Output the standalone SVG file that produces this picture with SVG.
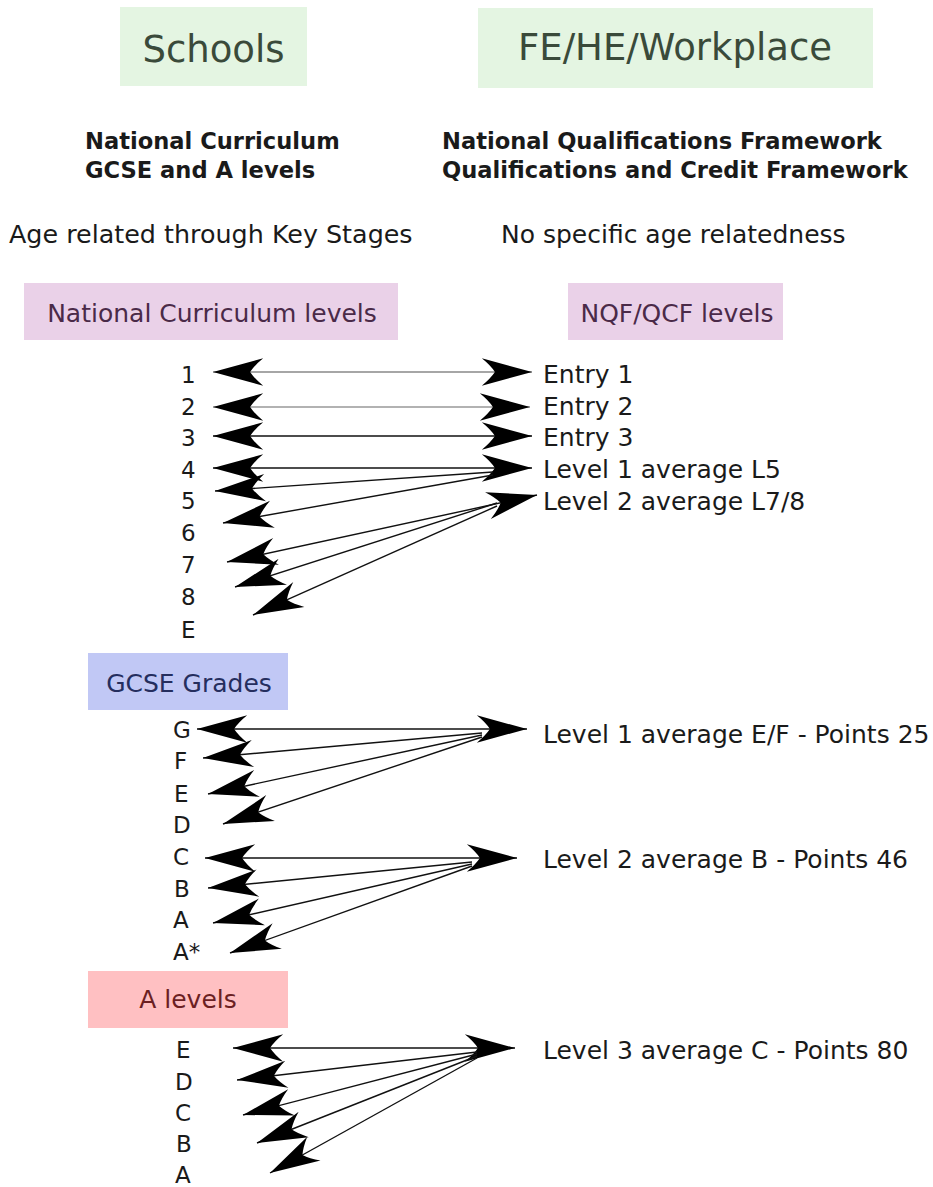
<svg xmlns="http://www.w3.org/2000/svg" width="933" height="1187" viewBox="0 0 933 1187">
<style>
text{font-family:"DejaVu Sans","Liberation Sans",sans-serif;fill:#1a1a1a}
.title{font-size:37px;text-anchor:middle;fill:#3a4a3a}
.bold{font-size:22.6px;font-weight:bold}
.txt{font-size:25px}
.lbl{font-size:23px}
.hdr{font-size:25px;text-anchor:middle}
.con line{stroke:#111;stroke-width:1.4;fill:none}
.both{marker-start:url(#ah);marker-end:url(#ah)}
.one{marker-start:url(#ah)}
</style>
<defs>
<marker id="ah" markerUnits="userSpaceOnUse" markerWidth="60" markerHeight="40" viewBox="-50 -15 55 30" refX="0" refY="0" orient="auto-start-reverse" overflow="visible">
<path d="M0,0 L-46,-12.5 Q-38,-6 -34,0 Q-38,6 -46,12.5 Z" fill="#000"/>
</marker>
</defs>
<g id="schools"><rect x="120" y="7" width="187" height="79" fill="#e4f5e2"/><text class="title" x="213.5" y="62">Schools</text></g>
<g id="fehe"><rect x="478" y="8" width="395" height="80" fill="#e4f5e2"/><text class="title" x="675" y="60">FE/HE/Workplace</text></g>
<g id="schools-desc"><text class="bold" x="85" y="149">National Curriculum</text><text class="bold" x="85" y="178">GCSE and A levels</text><text class="txt" x="9" y="243" style="font-size:25.4px">Age related through Key Stages</text></g>
<g id="fehe-desc"><text class="bold" x="442" y="149">National Qualifications Framework</text><text class="bold" x="442" y="178">Qualifications and Credit Framework</text><text class="txt" x="501" y="243">No specific age relatedness</text></g>
<g id="nc-levels"><rect x="24" y="283" width="374" height="57" fill="#ead1e8"/><text class="hdr" x="212" y="322" style="fill:#4a2a48">National Curriculum levels</text></g>
<g id="nqf-levels"><rect x="568" y="283" width="215" height="57" fill="#ead1e8"/><text class="hdr" x="677" y="322" style="fill:#4a2a48">NQF/QCF levels</text></g>
<g id="nc-list">
<text class="lbl" x="181" y="383">1</text><text class="lbl" x="181" y="415">2</text><text class="lbl" x="181" y="446">3</text><text class="lbl" x="181" y="478">4</text><text class="lbl" x="181" y="509">5</text><text class="lbl" x="181" y="541">6</text><text class="lbl" x="181" y="573">7</text><text class="lbl" x="181" y="605">8</text><text class="lbl" x="181" y="638">E</text>
</g>
<g id="nqf-list">
<text class="txt" x="543" y="383">Entry 1</text><text class="txt" x="543" y="415">Entry 2</text><text class="txt" x="543" y="446">Entry 3</text><text class="txt" x="543" y="478">Level 1 average L5</text><text class="txt" x="543" y="510">Level 2 average L7/8</text>
</g>
<g id="gcse"><rect x="88" y="653" width="200" height="57" fill="#c1c8f5"/><text class="hdr" x="189" y="692" style="fill:#252e5e">GCSE Grades</text></g>
<g id="gcse-list">
<text class="lbl" x="173" y="738">G</text><text class="lbl" x="174" y="769">F</text><text class="lbl" x="174" y="802">E</text><text class="lbl" x="173" y="833">D</text><text class="lbl" x="173" y="865">C</text><text class="lbl" x="174" y="897">B</text><text class="lbl" x="173" y="928">A</text><text class="lbl" x="173" y="960">A*</text>
</g>
<g id="gcse-targets">
<text class="txt" x="543" y="743">Level 1 average E/F - Points 25</text><text class="txt" x="543" y="868">Level 2 average B - Points 46</text>
</g>
<g id="alevels"><rect x="88" y="971" width="200" height="57" fill="#ffc0c2"/><text class="hdr" x="188" y="1008" style="fill:#6b1f22">A levels</text></g>
<g id="alevel-list">
<text class="lbl" x="176" y="1058">E</text><text class="lbl" x="175" y="1090">D</text><text class="lbl" x="175" y="1121">C</text><text class="lbl" x="176" y="1152">B</text><text class="lbl" x="175" y="1183">A</text>
</g>
<g id="alevel-target"><text class="txt" x="543" y="1059">Level 3 average C - Points 80</text></g>
<g id="connectors" class="con">
<line class="both" x1="213" y1="372" x2="532" y2="372" style="stroke:#888"/>
<line class="both" x1="213" y1="407" x2="530" y2="407" style="stroke:#999"/>
<line class="both" x1="213" y1="436" x2="532" y2="436"/>
<line class="both" x1="213" y1="468" x2="532" y2="468"/>
<line class="one" x1="215" y1="491" x2="493" y2="472"/>
<line class="one" x1="223" y1="523" x2="493" y2="475"/>
<line class="both" x1="227" y1="562" x2="537" y2="495"/>
<line class="one" x1="235" y1="587" x2="497" y2="503"/>
<line class="one" x1="253" y1="615" x2="497" y2="506"/>
<line class="both" x1="197" y1="729" x2="527" y2="729"/>
<line class="one" x1="203" y1="758" x2="482" y2="733"/>
<line class="one" x1="208" y1="794" x2="482" y2="735"/>
<line class="one" x1="223" y1="824" x2="482" y2="737"/>
<line class="both" x1="205" y1="858" x2="517" y2="858"/>
<line class="one" x1="208" y1="888" x2="472" y2="862"/>
<line class="one" x1="213" y1="923" x2="472" y2="864"/>
<line class="one" x1="230" y1="953" x2="472" y2="866"/>
<line class="both" x1="233" y1="1048" x2="515" y2="1048"/>
<line class="one" x1="237" y1="1080" x2="477" y2="1052"/>
<line class="one" x1="243" y1="1115" x2="477" y2="1054"/>
<line class="one" x1="257" y1="1143" x2="477" y2="1056"/>
<line class="one" x1="270" y1="1173" x2="477" y2="1058"/>
</g>
</svg>
